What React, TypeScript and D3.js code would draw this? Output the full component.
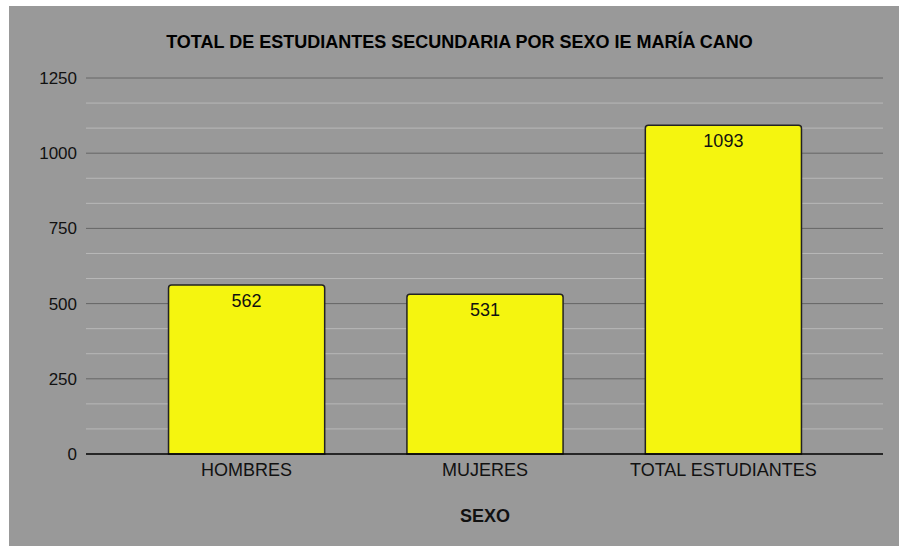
import React from "react";
import * as d3 from "d3";

const categories = ["HOMBRES", "MUJERES", "TOTAL ESTUDIANTES"];
const values = [562, 531, 1093];
const yTicks = [0, 250, 500, 750, 1000, 1250];
const minorTicks = yTicks
  .slice(0, -1)
  .flatMap((t) => [t + 250 / 3, t + 500 / 3]);
const title = "TOTAL DE ESTUDIANTES SECUNDARIA POR SEXO IE MARÍA CANO";
const xTitle = "SEXO";

const W = 899;
const H = 546;
const plotLeft = 86;
const plotRight = 883;
const plotTop = 78;
const plotBottom = 454;

export default function App() {
  const y = d3.scaleLinear().domain([0, 1250]).range([plotBottom, plotTop]);
  const x = d3
    .scaleBand<string>()
    .domain(categories)
    .range([128, 842])
    .paddingInner(0.345)
    .paddingOuter(0.17);
  const bw = x.bandwidth();
  const font = "Liberation Sans, Arial, sans-serif";
  const r = 3;
  const barPath = (x0: number, y0: number, w: number, h: number) =>
    `M${x0},${y0 + h} V${y0 + r} Q${x0},${y0} ${x0 + r},${y0} H${x0 + w - r} Q${x0 + w},${y0} ${x0 + w},${y0 + r} V${y0 + h} Z`;
  return (
    <svg
      width={W}
      height={H}
      style={{ position: "absolute", left: 0, top: 0 }}
      fontFamily={font}
    >
      <rect x={0} y={0} width={W} height={H} fill="#ffffff" />
      <rect x={9} y={6} width={W - 9} height={H - 6} fill="#999999" />
      <text
        x={459.5}
        y={48}
        textAnchor="middle"
        fontSize={18}
        fontWeight="bold"
        fill="#000"
      >
        {title}
      </text>
      {minorTicks.map((t) => (
        <line
          key={"m" + t}
          x1={plotLeft}
          x2={plotRight}
          y1={y(t)}
          y2={y(t)}
          stroke="#b8b8b8"
          strokeWidth={1}
        />
      ))}
      {yTicks.map((t) => (
        <g key={"t" + t}>
          {t !== 0 && (
            <line
              x1={plotLeft}
              x2={plotRight}
              y1={y(t)}
              y2={y(t)}
              stroke="#666666"
              strokeWidth={1}
            />
          )}
          <text
            x={77}
            y={y(t)}
            dy="0.35em"
            textAnchor="end"
            fontSize={17}
            fill="#111"
          >
            {t}
          </text>
        </g>
      ))}
      {categories.map((c, i) => {
        const x0 = x(c)!;
        const y0 = y(values[i]);
        return (
          <g key={c}>
            <path
              d={barPath(x0, y0, bw, plotBottom - y0)}
              fill="rgb(245,245,15)"
              stroke="#222"
              strokeWidth={1.5}
            />
            <text
              x={x0 + bw / 2}
              y={y0 + 22}
              textAnchor="middle"
              fontSize={18}
              fill="#111"
            >
              {values[i]}
            </text>
            <text
              x={x0 + bw / 2}
              y={plotBottom + 22}
              textAnchor="middle"
              fontSize={18}
              fill="#111"
            >
              {c}
            </text>
          </g>
        );
      })}
      <line
        x1={plotLeft}
        x2={plotRight}
        y1={plotBottom}
        y2={plotBottom}
        stroke="#000"
        strokeWidth={1.5}
      />
      <text
        x={x(categories[1])! + bw / 2}
        y={522}
        textAnchor="middle"
        fontSize={18}
        fontWeight="bold"
        fill="#111"
      >
        {xTitle}
      </text>
    </svg>
  );
}
